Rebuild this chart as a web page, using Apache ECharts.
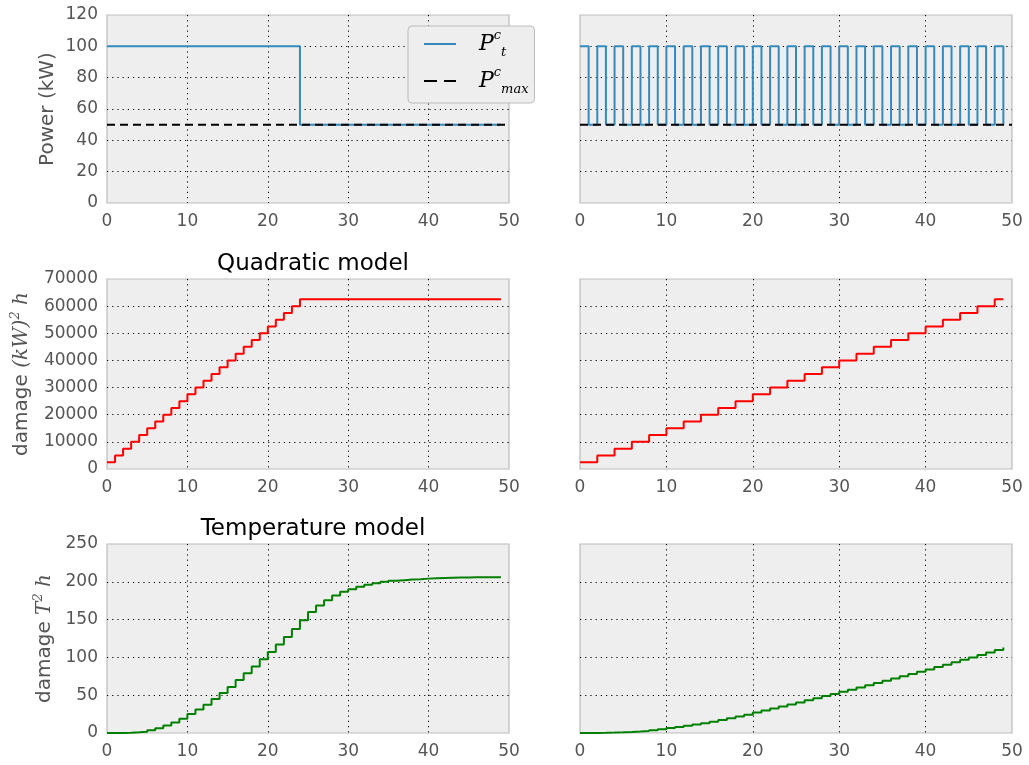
<!DOCTYPE html>
<html><head><meta charset="utf-8">
<script src="https://cdn.jsdelivr.net/npm/echarts@6/dist/echarts.min.js"></script>
<style>html,body{margin:0;padding:0;background:#fff}#c{width:1029px;height:765px}</style>
</head><body><div id="c"></div>
<script>
// ---------- data ----------
const hours = [0,1,2,3,4,5,6,7,8,9,10,11,12,13,14,15,16,17,18,19,20,21,22,23,24,25,26,27,28,29,30,31,32,33,34,35,36,37,38,39,40,41,42,43,44,45,46,47,48,49];
const xTicks = [0,10,20,30,40,50];
const powerConst = [100,100,100,100,100,100,100,100,100,100,100,100,100,100,100,100,100,100,100,100,100,100,100,100,50,50,50,50,50,50,50,50,50,50,50,50,50,50,50,50,50,50,50,50,50,50,50,50,50,50];
const powerAlt = [100,50,100,50,100,50,100,50,100,50,100,50,100,50,100,50,100,50,100,50,100,50,100,50,100,50,100,50,100,50,100,50,100,50,100,50,100,50,100,50,100,50,100,50,100,50,100,50,100,50];
const pMaxX = [0,50];
const pMaxY = [50,50];
const quadConst = [2500,5000,7500,10000,12500,15000,17500,20000,22500,25000,27500,30000,32500,35000,37500,40000,42500,45000,47500,50000,52500,55000,57500,60000,62500,62500,62500,62500,62500,62500,62500,62500,62500,62500,62500,62500,62500,62500,62500,62500,62500,62500,62500,62500,62500,62500,62500,62500,62500,62500];
const quadAlt = [2500,2500,5000,5000,7500,7500,10000,10000,12500,12500,15000,15000,17500,17500,20000,20000,22500,22500,25000,25000,27500,27500,30000,30000,32500,32500,35000,35000,37500,37500,40000,40000,42500,42500,45000,45000,47500,47500,50000,50000,52500,52500,55000,55000,57500,57500,60000,60000,62500,62500];
const tempConst = [0,0.1,0.3,0.9,1.8,3.5,6.2,10,14,19,25,31,37.5,45,53,61,70,79,88,97.5,107,117,127,137.5,149,160,168.5,175.5,182,187,190,193.5,196,198,200,201.3,202.2,203,203.5,204.2,204.7,205.1,205.4,205.6,205.8,205.9,206.0,206.1,206.1,206.2];
const tempAlt = [0,0.05,0.2,0.5,0.9,1.4,2.0,2.8,3.8,5.1,6.6,8.0,9.5,11.2,13.0,15.0,17.1,19.4,21.8,24.3,27.0,29.7,32.4,35.1,37.8,40.5,43.2,46.0,48.8,51.6,54.4,57.3,60.2,63.1,66.0,69.0,72.0,75.0,78.0,81.0,84.0,87.2,90.4,93.6,96.8,100.0,103.2,106.4,109.7,113.0];
const powerTicks = [0,20,40,60,80,100,120];
const quadTicks = [0,10000,20000,30000,40000,50000,60000,70000];
const tempTicks = [0,50,100,150,200,250];

// keep every small vertical step of the step lines (disable tiny-segment skipping)
try {
  const pathProto = Object.getPrototypeOf(echarts.graphic.Polyline.prototype);
  Object.defineProperty(pathProto, 'segmentIgnoreThreshold', {
    configurable:true, get:function(){ return 0; }, set:function(v){}
  });
} catch (e) {}

// ---------- styling ----------
const FONT = 'DejaVu Sans';
const MATH = 'DejaVu Serif';
const gridBoxes = [
  {left:107, top:15, width:402, height:188},
  {left:580, top:15, width:432, height:188},
  {left:107, top:279, width:402, height:190},
  {left:580, top:279, width:432, height:190},
  {left:107, top:544, width:402, height:189},
  {left:580, top:544, width:432, height:189}
];
const grids = gridBoxes.map(g => Object.assign({show:true, backgroundColor:'#eeeeee', borderColor:'#bcbcbc', borderWidth:1.2}, g));
const splitLine = {show:true, showMinLine:false, showMaxLine:false, lineStyle:{color:'#000', width:1, type:[1.2,4]}};
const plain = v => String(v);
const xAxes = gridBoxes.map((g,i) => ({
  type:'value', gridIndex:i, min:xTicks[0], max:xTicks[xTicks.length-1], interval:xTicks[1]-xTicks[0],
  axisLine:{show:false}, axisTick:{show:false}, splitLine:splitLine,
  axisLabel:{color:'#555', fontSize:17, fontFamily:FONT, margin:10, formatter:plain}
}));
const tickSets = [powerTicks, powerTicks, quadTicks, quadTicks, tempTicks, tempTicks];
const nameRich = {
  m:{fontFamily:MATH, fontStyle:'italic', fontSize:20, color:'#555', lineHeight:26, verticalAlign:'middle'},
  s:{fontFamily:MATH, fontStyle:'italic', fontSize:13, color:'#555', verticalAlign:'top', lineHeight:13},
  n:{fontFamily:FONT, fontSize:20, color:'#555', lineHeight:26, verticalAlign:'middle'}
};
const yNames = ['{n|Power (kW)}', '', '{n|damage }{m|(kW)}{s|2}{m| h}', '', '{n|damage }{m|T}{s|2}{m| h}', ''];
const yGaps = [46, 0, 72, 0, 49, 0];
const yAxes = gridBoxes.map((g,i) => {
  const t = tickSets[i];
  return {
    type:'value', gridIndex:i, min:t[0], max:t[t.length-1], interval:t[1]-t[0],
    axisLine:{show:false}, axisTick:{show:false}, splitLine:splitLine,
    axisLabel:{show:i%2===0, color:'#555', fontSize:17, fontFamily:FONT, margin:9, formatter:plain},
    name:yNames[i], nameLocation:'middle', nameRotate:90, nameGap:yGaps[i],
    nameTextStyle:{rich:nameRich}
  };
});
function pts(arr){ return hours.map((h,i)=>[h, arr[i]]); }
function stepLine(name, idx, arr, color, width, z){
  return {name:name, type:'line', xAxisIndex:idx, yAxisIndex:idx, data:pts(arr), step:'end',
    symbol:'none', lineStyle:{color:color, width:width}, itemStyle:{color:color}, z:z, silent:true};
}
function pmaxLine(idx){
  return {name:'Pmax', type:'line', xAxisIndex:idx, yAxisIndex:idx, data:pMaxX.map((x,i)=>[x,pMaxY[i]]),
    symbol:'none', lineStyle:{color:'#000', width:2, type:[8,5]}, itemStyle:{color:'#000'}, z:5, silent:true};
}
const series = [
  stepLine('Pt', 0, powerConst, '#348ABD', 2, 3),
  pmaxLine(0),
  stepLine('Pt', 1, powerAlt, '#348ABD', 2, 3),
  pmaxLine(1),
  stepLine('quad1', 2, quadConst, '#ff0000', 2, 3),
  stepLine('quad2', 3, quadAlt, '#ff0000', 2, 3),
  stepLine('temp1', 4, tempConst, '#008000', 2, 3),
  stepLine('temp2', 5, tempAlt, '#008000', 2, 3)
];
const legendRich = {
  P:{fontFamily:MATH, fontStyle:'italic', fontSize:22, color:'#000', lineHeight:30, verticalAlign:'middle', padding:[0,0,0,18]},
  sup:{fontFamily:MATH, fontStyle:'italic', fontSize:13, color:'#000', verticalAlign:'top', lineHeight:13},
  sub:{fontFamily:MATH, fontStyle:'italic', fontSize:13, color:'#000', verticalAlign:'bottom', lineHeight:13}
};
const option = {
  animation:false,
  backgroundColor:'#ffffff',
  title:[
    {text:'Quadratic model', left:308, top:248, textAlign:'center', textStyle:{fontFamily:FONT, fontSize:23, fontWeight:'normal', color:'#000'}},
    {text:'Temperature model', left:308, top:513, textAlign:'center', textStyle:{fontFamily:FONT, fontSize:23, fontWeight:'normal', color:'#000'}}
  ],
  legend:{
    orient:'vertical', left:408, top:26, padding:[3,6,7,15], itemGap:7, itemWidth:32, itemHeight:14,
    backgroundColor:'#eeeeee', borderColor:'#bcbcbc', borderWidth:1, borderRadius:4,
    selectedMode:false,
    itemStyle:{opacity:0},
    data:[
      {name:'Pt', itemStyle:{opacity:0}},
      {name:'Pmax', itemStyle:{opacity:0}, lineStyle:{type:[13,7]}}
    ],
    formatter:function(n){ return n==='Pt' ? '{P|P}{sup|c}{sub|t}' : '{P|P}{sup|c}{sub|max}'; },
    textStyle:{rich:legendRich}
  },
  grid:grids, xAxis:xAxes, yAxis:yAxes, series:series
};
const chart = echarts.init(document.getElementById('c'), null, {renderer:'canvas'});
chart.setOption(option);
</script></body></html>
